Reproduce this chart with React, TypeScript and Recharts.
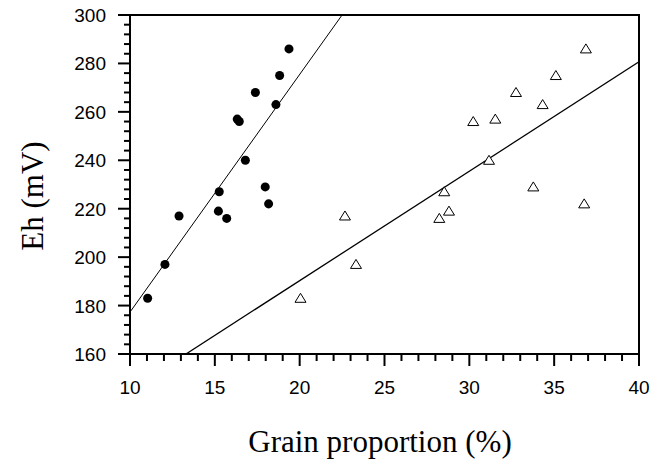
import React from 'react';
import {
    ScatterChart,
    Scatter,
    XAxis,
    YAxis,
    ReferenceLine,
    ReferenceArea,
} from 'recharts';

// filled circles: grain proportion vs Eh
const circleX = [11.04, 12.06, 12.89, 15.26, 15.21, 15.7, 16.32, 16.44, 16.8, 17.39, 17.97, 18.17, 18.6, 18.82, 19.37];
const circleY = [183, 197, 217, 227, 219, 216, 257, 256, 240, 268, 229, 222, 263, 275, 286];

// open triangles
const triX = [20.05, 22.67, 23.32, 28.23, 28.52, 28.8, 30.23, 31.16, 31.53, 32.75, 33.77, 34.32, 35.1, 36.87, 36.77];
const triY = [183, 217, 197, 216, 227, 219, 256, 240, 257, 268, 229, 263, 275, 286, 222];

// fitted line end points
const fitCircles = [{ x: 10, y: 177.3 }, { x: 22.5, y: 300 }];
const fitTriangles = [{ x: 13.3, y: 160 }, { x: 40, y: 280.7 }];

const xMajor = [10, 15, 20, 25, 30, 35, 40];
const yMajor = [160, 180, 200, 220, 240, 260, 280, 300];
const xTicks = Array.from({ length: 31 }, (_, i) => 10 + i);
const yTicks = Array.from({ length: 36 }, (_, i) => 160 + i * 4);

const circles = circleX.map((x, i) => ({ x, y: circleY[i] }));
const triangles = triX.map((x, i) => ({ x, y: triY[i] }));

const tickFont = { fontFamily: 'Liberation Sans, Arial, sans-serif', fontSize: 19, fill: '#000' };
const titleFont = { fontFamily: 'Liberation Serif, Times New Roman, serif', fontSize: 31, fill: '#000' };

const XTick = (props: any) => {
    const { x, y, payload } = props;
    const major = xMajor.includes(payload.value);
    return (
        <g>
            <line x1={x} x2={x} y1={y} y2={y + (major ? 12 : 7)} stroke="#000" strokeWidth={2} />
            {major && (
                <text x={x} y={y + 40} textAnchor="middle" {...tickFont}>
                    {payload.value}
                </text>
            )}
        </g>
    );
};

const YTick = (props: any) => {
    const { x, y, payload } = props;
    const major = yMajor.includes(payload.value);
    return (
        <g>
            <line x1={x} x2={x - (major ? 12 : 6)} y1={y} y2={y} stroke="#000" strokeWidth={2} />
            {major && (
                <text x={x - 24} y={y + 7} textAnchor="end" {...tickFont}>
                    {payload.value}
                </text>
            )}
        </g>
    );
};

const Triangle = (props: any) => {
    const { cx, cy } = props;
    return (
        <path
            d={`M${cx},${cy - 5} L${cx + 5.5},${cy + 4} L${cx - 5.5},${cy + 4} Z`}
            fill="#fff"
            stroke="#000"
            strokeWidth={1}
        />
    );
};

export default function App() {
    return (
        <div style={{ position: 'absolute', left: 0, top: 0, background: '#fff' }}>
            <ScatterChart width={652} height={460} margin={{ top: 15, right: 13, bottom: 0, left: 0 }}>
                <XAxis
                    type="number"
                    dataKey="x"
                    domain={[10, 40]}
                    ticks={xTicks}
                    interval={0}
                    tick={<XTick />}
                    tickSize={0}
                    tickMargin={0}
                    tickLine={false}
                    axisLine={{ stroke: '#000', strokeWidth: 2 }}
                    height={106}
                    allowDataOverflow
                />
                <YAxis
                    type="number"
                    dataKey="y"
                    domain={[160, 300]}
                    ticks={yTicks}
                    interval={0}
                    tick={<YTick />}
                    tickSize={0}
                    tickMargin={0}
                    tickLine={false}
                    axisLine={{ stroke: '#000', strokeWidth: 2 }}
                    width={130}
                    allowDataOverflow
                />
                <ReferenceArea x1={10} x2={40} y1={160} y2={300} fill="none" stroke="#000" strokeWidth={2} fillOpacity={0} />
                <ReferenceLine segment={fitCircles} stroke="#000" strokeWidth={1} ifOverflow="hidden" />
                <ReferenceLine segment={fitTriangles} stroke="#000" strokeWidth={1.3} ifOverflow="hidden" />
                <Scatter data={circles} fill="#000" isAnimationActive={false} shape="circle" r={4.5} />
                <Scatter data={triangles} isAnimationActive={false} shape={<Triangle />} />
                <text x={380} y={452} textAnchor="middle" {...titleFont}>
                    Grain proportion (%)
                </text>
                <text x={43} y={196} textAnchor="middle" transform="rotate(-90 43 196)" {...titleFont}>
                    Eh (mV)
                </text>
            </ScatterChart>
        </div>
    );
}
